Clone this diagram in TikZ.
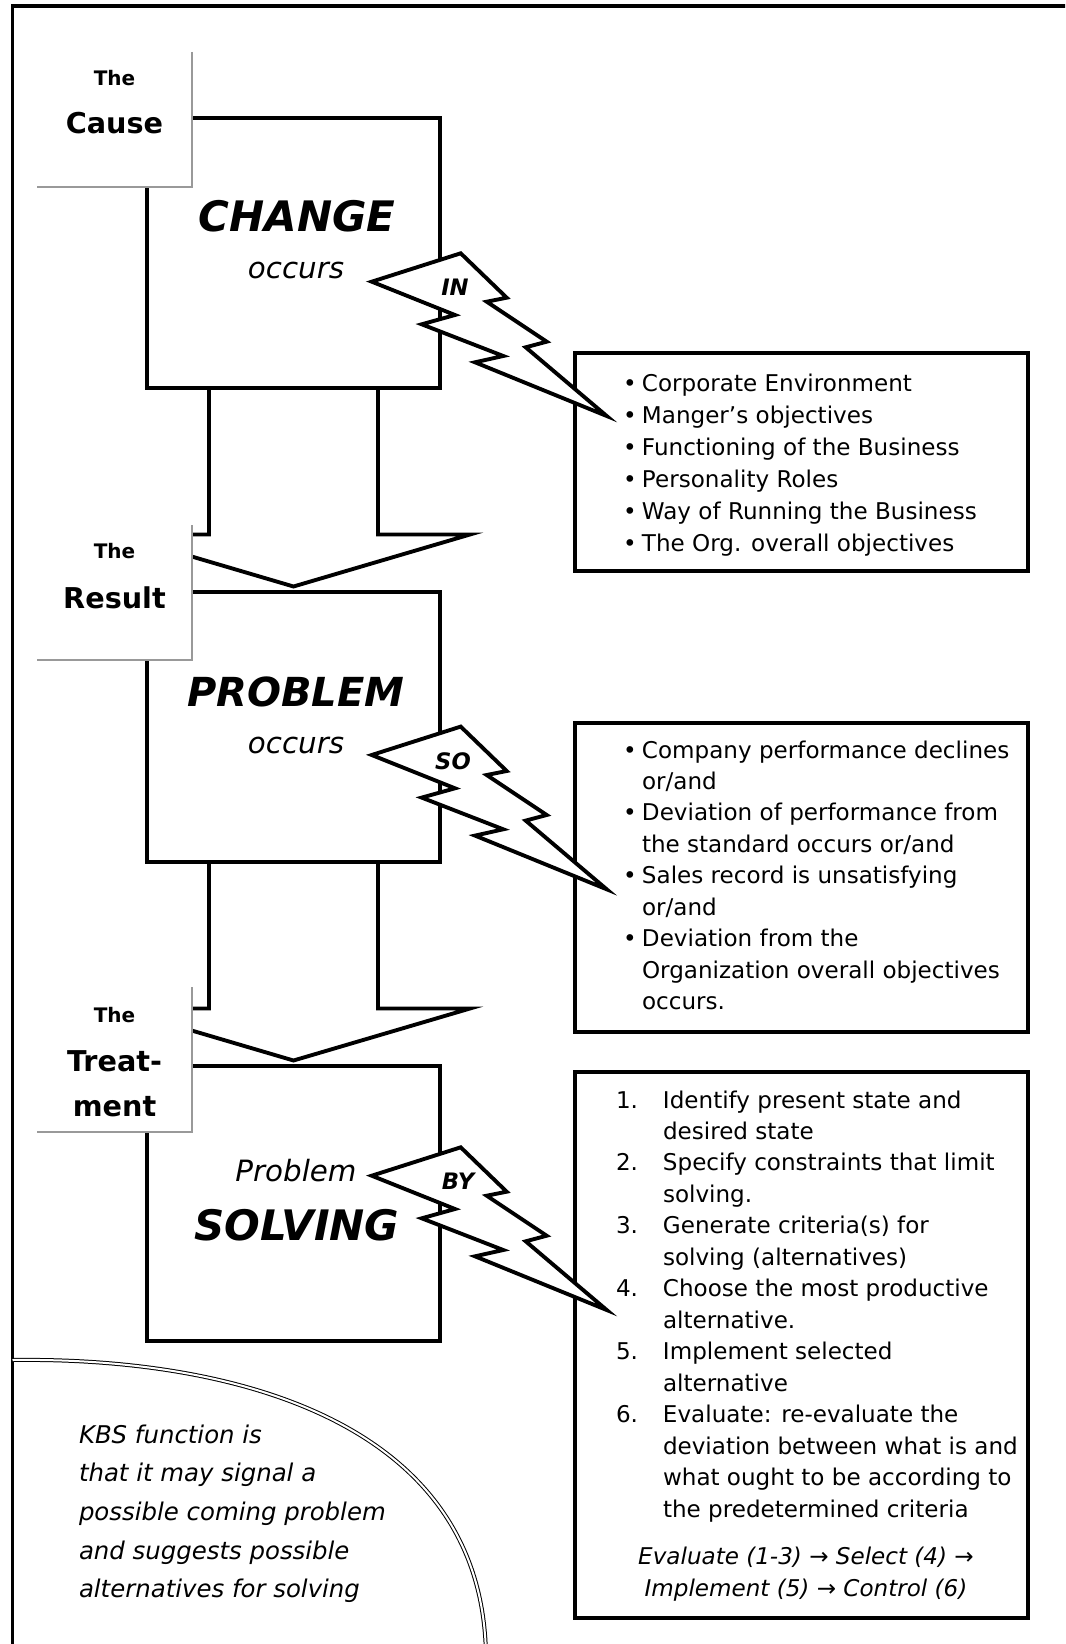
\documentclass[tikz,border=0pt]{standalone}
\usepackage{fontspec}
\setmainfont{DejaVu Sans}[
  BoldFont={DejaVu Sans Bold},
  ItalicFont={DejaVu Sans Oblique},
  BoldItalicFont={DejaVu Sans Bold Oblique}]
\usetikzlibrary{fit}

% list markers with fixed hanging widths
\newcommand\listdot{\makebox[14.25pt][l]{•}}
\newcommand\listnum[1]{\makebox[35.25pt][l]{#1}}

\tikzset{
  bolt shape/.pic={
    \draw[boltline] (0,0) -- (89,-28.4) -- (135,16) -- (115,20) -- (175,60)
      -- (154,65.6) -- (235,134.3) -- (103.3,80.6) -- (131.6,74.3)
      -- (50,42.6) -- (83.3,33.3) -- cycle;
  }
}

\begin{document}
\begin{tikzpicture}[x=0.75pt, y=-0.75pt,
  every node/.style={inner sep=0pt, outer sep=0pt},
  frameline/.style={line width=2.6pt},
  mainbox/.style={draw, line width=3pt, fill=white},
  tagbox/.style={fill=white},
  tagedge/.style={draw=black!40, line width=1.6pt},
  infobox/.style={draw, line width=3.1pt, fill=white},
  downarrow/.style={draw, line width=2.9pt, fill=white, line join=miter},
  boltline/.style={draw, line width=2.9pt, fill=white, line join=miter, miter limit=25},
  oval/.style={draw, double, line width=0.75pt, double distance=1.5pt},
  tagsmall/.style={font=\fontsize{15}{18}\selectfont\bfseries, anchor=base},
  tagbig/.style={font=\fontsize{21.5}{26}\selectfont\bfseries, anchor=base},
  headword/.style={font=\fontsize{31}{36}\selectfont\bfseries\itshape, anchor=base},
  subword/.style={font=\fontsize{22}{26}\selectfont\itshape, anchor=base},
  boltword/.style={font=\fontsize{17}{20}\selectfont\bfseries\itshape},
  listtext/.style={font=\fontsize{17.3}{23.6}\selectfont, anchor=north west},
  ovaltext/.style={font=\fontsize{18.3}{29}\selectfont\itshape, anchor=north west},
]
\useasboundingbox (0,0) rectangle (1065,1644);
\clip (0,0) rectangle (1065,1644);
\fill[white] (0,0) rectangle (1065,1644);

% page frame (top and left edges)
\draw[frameline] (1080,6) -- (12.5,6) -- (12.5,1660);

% broad arrows between the stages
\draw[downarrow] (209,388) -- (209,534.5) -- (117,534.5) -- (293.5,586.5)
  -- (470,534.5) -- (378,534.5) -- (378,388);
\draw[downarrow] (209,862) -- (209,1008.5) -- (117,1008.5) -- (293.5,1060.5)
  -- (470,1008.5) -- (378,1008.5) -- (378,862);

% stage boxes
\node[mainbox, fit={(147,118) (440,388)}] (change) {};
\node[mainbox, fit={(147,592) (440,862)}] (problem) {};
\node[mainbox, fit={(147,1066) (440,1341)}] (solving) {};

% stage tags
\node[tagbox, fit={(37,52) (192,187)}] (causetag) {};
\draw[tagedge] (causetag.north east) -- (causetag.south east) -- (causetag.south west);
\node[tagbox, fit={(37,525) (192,660)}] (resulttag) {};
\draw[tagedge] (resulttag.north east) -- (resulttag.south east) -- (resulttag.south west);
\node[tagbox, fit={(37,987) (192,1132)}] (treattag) {};
\draw[tagedge] (treattag.north east) -- (treattag.south east) -- (treattag.south west);

\node[tagsmall] (cause1) at (114.5,86) {The};
\node[tagbig] (cause2) at (114.5,134) {Cause};
\node[tagsmall] (result1) at (114.5,558.5) {The};
\node[tagbig] (result2) at (114.5,608) {Result};
\node[tagsmall] (treat1) at (114.5,1022) {The};
\node[tagbig] (treat2) at (114.5,1071) {Treat-};
\node[tagbig] (treat3) at (114.5,1116) {ment};

% detail boxes
\node[infobox, fit={(575,353) (1028,571)}] (areas) {};
\node[infobox, fit={(575,723) (1028,1032)}] (symptoms) {};
\node[infobox, fit={(575,1072) (1028,1618)}] (steps) {};

% lightning links
\pic at (371.7,281.7) {bolt shape};
\pic at (371.7,755) {bolt shape};
\pic at (371.7,1175.7) {bolt shape};
\node[boltword] (inword) at (455,287) {IN};
\node[boltword] (soword) at (453,761) {SO};
\node[boltword] (byword) at (458,1181) {BY};

% stage texts
\node[headword, font=\fontsize{31.5}{36}\selectfont\bfseries\itshape] (changeword) at (297,232) {CHANGE};
\node[subword] (occurs1) at (296,279) {occurs};
\node[headword, font=\fontsize{30}{36}\selectfont\bfseries\itshape] (problemword) at (296,706) {PROBLEM};
\node[subword] (occurs2) at (296,753) {occurs};
\node[subword] (problemsub) at (296,1181) {Problem};
\node[headword, font=\fontsize{31.5}{36}\selectfont\bfseries\itshape] (solvingword) at (297,1240) {SOLVING};

% detail texts
\node[listtext, font=\fontsize{17.3}{24}\selectfont] (areastext) at (623,368.6) {%
\begin{tabular}{@{}l@{}l@{}}
\listdot & Corporate Environment\\
\listdot & Manger’s objectives\\
\listdot & Functioning of the Business\\
\listdot & Personality Roles\\
\listdot & Way of Running the Business\\
\listdot & The Org. overall objectives
\end{tabular}};

\node[listtext] (symptomstext) at (623,736) {%
\begin{tabular}{@{}l@{}l@{}}
\listdot & Company performance declines\\
 & or/and\\
\listdot & Deviation of performance from\\
 & the standard occurs or/and\\
\listdot & Sales record is unsatisfying\\
 & or/and\\
\listdot & Deviation from the\\
 & Organization overall objectives\\
 & occurs.
\end{tabular}};

\node[listtext] (stepstext) at (616,1086) {%
\begin{tabular}{@{}l@{}l@{}}
\listnum{1.} & Identify present state and\\
 & desired state\\
\listnum{2.} & Specify constraints that limit\\
 & solving.\\
\listnum{3.} & Generate criteria(s) for\\
 & solving (alternatives)\\
\listnum{4.} & Choose the most productive\\
 & alternative.\\
\listnum{5.} & Implement selected\\
 & alternative\\
\listnum{6.} & Evaluate: re-evaluate the\\
 & deviation between what is and\\
 & what ought to be according to\\
 & the predetermined criteria
\end{tabular}};

\node[anchor=north, font=\fontsize{17.3}{24}\selectfont\itshape] (cycletext) at (806,1541.6) {%
\begin{tabular}{@{}c@{}}
Evaluate (1-3) → Select (4) →\\
Implement (5) → Control (6)
\end{tabular}};

% knowledge-based system note
\draw[oval] (12.5,1360) .. controls (230,1357) and (486,1420) .. (486,1660);
\node[ovaltext] (kbstext) at (79,1416) {%
\begin{tabular}{@{}l@{}}
KBS function is\\
that it may signal a\\
possible coming problem\\
and suggests possible\\
alternatives for solving
\end{tabular}};
\end{tikzpicture}
\end{document}
